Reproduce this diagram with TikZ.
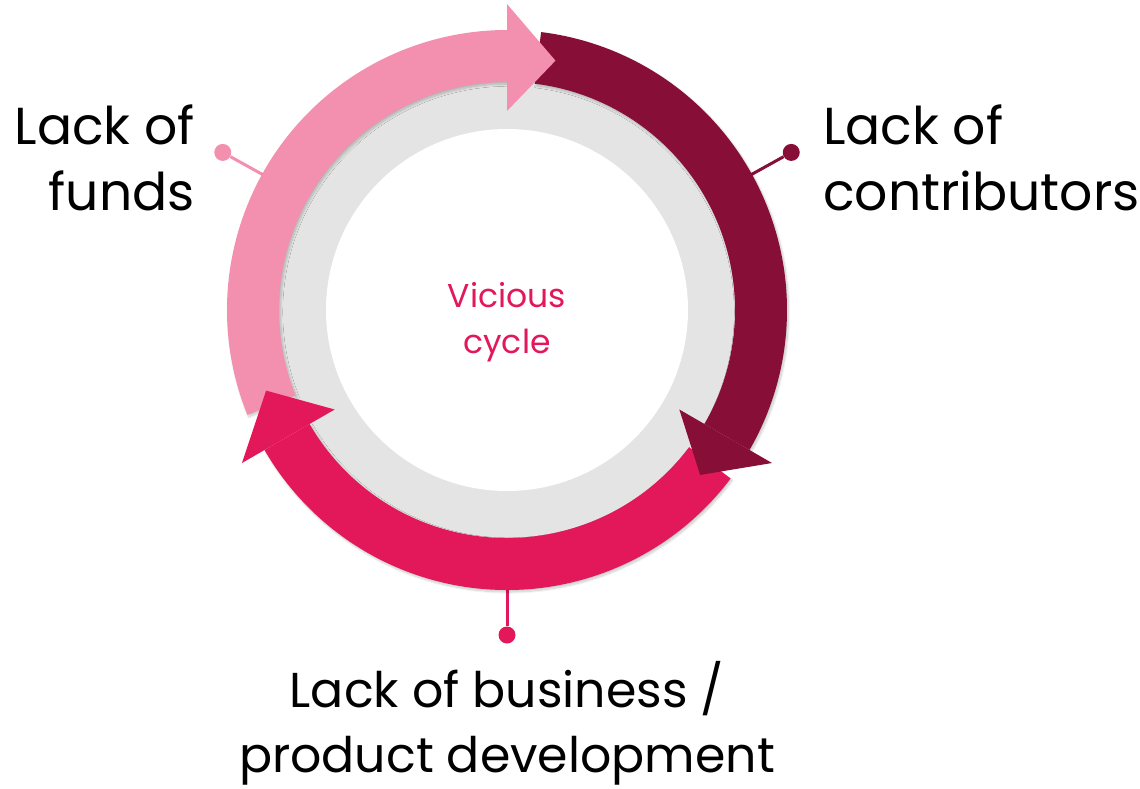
\documentclass[tikz,border=0pt]{standalone}
\usepackage{fontspec}
\setmainfont{Poppins}
\usetikzlibrary{calc,shadows.blur}

\definecolor{cyclepink}{HTML}{F390B0}
\definecolor{cyclewine}{HTML}{870E37}
\definecolor{cyclerose}{HTML}{E2185B}
\definecolor{cyclegray}{HTML}{E4E4E4}

\begin{document}
\begin{tikzpicture}[x=1pt,y=1pt,
  softshadow/.style={blur shadow={shadow blur steps=10,shadow xshift=1.5pt,shadow yshift=-2pt,shadow opacity=22}},
  pin/.style={circle,inner sep=0,minimum size=17pt},
  pinline/.style={line width=3pt},
  caption/.style={font=\fontsize{52}{66}\selectfont,inner sep=0}]

\useasboundingbox (-507,-478) rectangle (633,310);

% ring behind the arrows
\fill [cyclegray] (0,0) circle (229);
\fill [white] (0,0) circle (181);

% pins
\node [pin,fill=cyclepink] (pfunds) at (151:325) {};
\node [pin,fill=cyclewine] (pcontrib) at (29:325) {};
\node [pin,fill=cyclerose] (pbusiness) at (270:325) {};
\coordinate (rfunds) at (151:275);
\coordinate (rcontrib) at (29:275);
\coordinate (rbusiness) at (270:275);
\draw [pinline,cyclepink] (rfunds) -- (pfunds);
\draw [pinline,cyclewine] (rcontrib) -- (pcontrib);
\draw [pinline,cyclerose] (rbusiness) -- (pbusiness);

% arrow bodies
\fill [cyclepink,softshadow] (202:280) arc [start angle=202,end angle=90,radius=280] -- (90:228) arc [start angle=90,end angle=202,radius=228] -- cycle;
\fill [cyclewine,softshadow] (83:280) arc [start angle=83,end angle=-30,radius=280] -- (-30:228) arc [start angle=-30,end angle=83,radius=228] -- cycle;
\fill [cyclerose,softshadow] (-37:280) arc [start angle=-37,end angle=-150,radius=280] -- (-150:228) arc [start angle=-150,end angle=-37,radius=228] -- cycle;

% arrow heads
\fill [cyclepink] (90:199) -- (90:306) -- (79:254) -- cycle;
\fill [cyclewine] (-30:199) -- (-30:306) -- (-40.5:254) -- cycle;
\fill [cyclerose] (-150:199) -- (-150:306) -- (-161.5:254) -- cycle;

\node [font=\fontsize{33}{46}\selectfont,text=cyclerose,align=center] (vicious) at (0,-12) {Vicious\\cycle};

\node [caption,anchor=base east,align=right] (funds) at (-312,100) {Lack of\\funds};
\node [caption,anchor=base west,align=left] (contrib) at (316,100) {Lack of\\contributors};
\node [caption,font=\fontsize{49}{65}\selectfont,anchor=base,align=center] (business) at (0,-462) {Lack of business /\\product development};

\end{tikzpicture}
\end{document}
